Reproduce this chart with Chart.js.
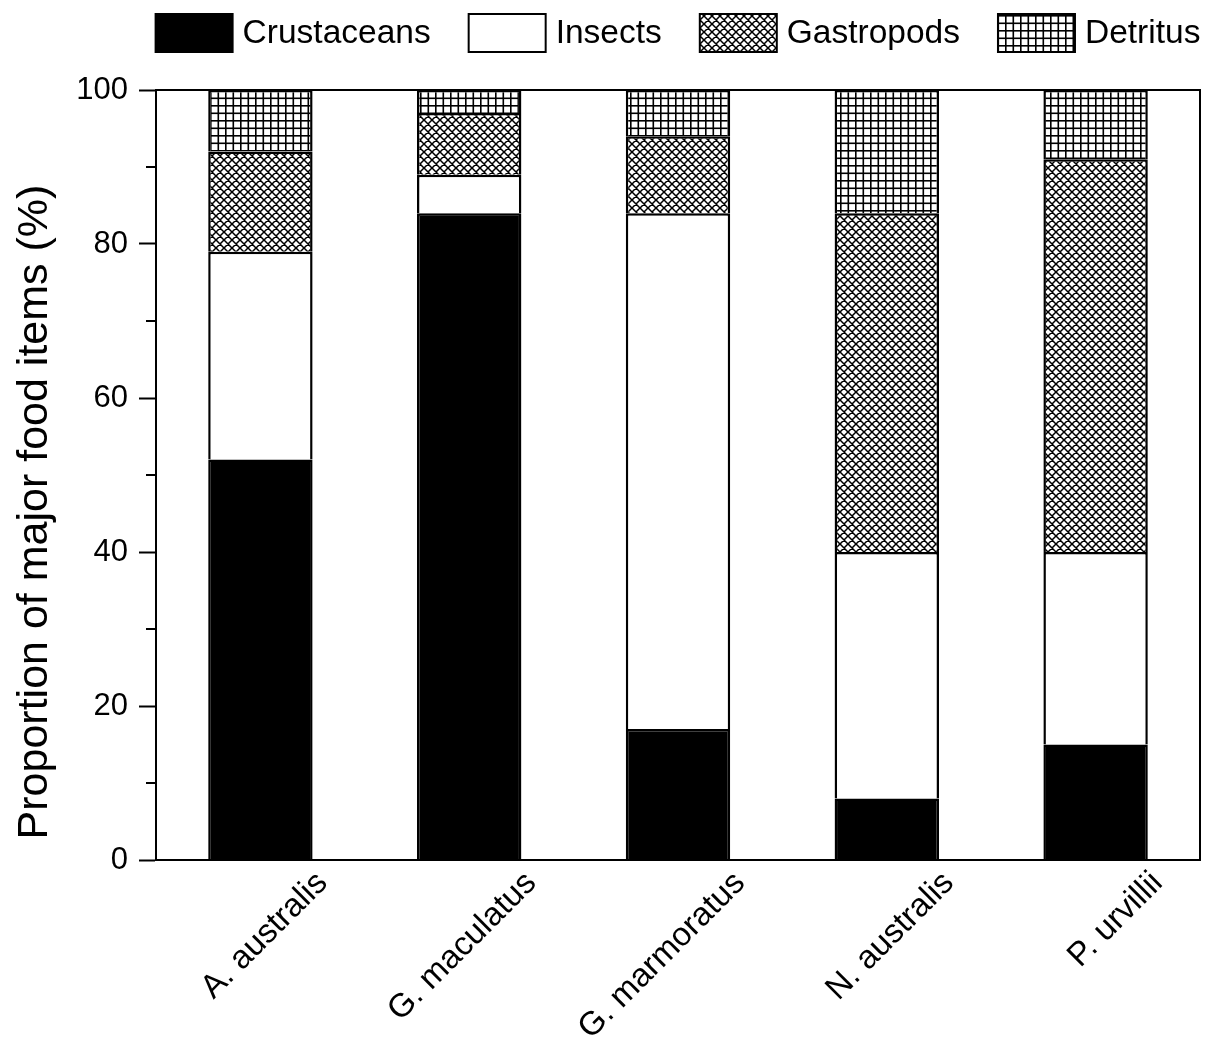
<!DOCTYPE html>
<html>
<head>
<meta charset="utf-8">
<title>Proportion of major food items</title>
<script src="https://cdn.jsdelivr.net/npm/chart.js@4/dist/chart.umd.min.js"></script>
<style>
  html, body { margin: 0; padding: 0; background: #fff; }
  canvas { display: block; }
</style>
</head>
<body>
<canvas id="diet" width="1212" height="1041"></canvas>
<script>
// Species and the share (%) of each food category in their diet
const species = ['A. australis', 'G. maculatus', 'G. marmoratus', 'N. australis', 'P. urvillii'];
const crustaceans = [52, 84, 17, 8, 15];
const insects = [27, 5, 67, 32, 25];
const gastropods = [13, 8, 10, 44, 51];
const detritus = [8, 3, 6, 16, 9];
const yMajorTicks = [0, 20, 40, 60, 80, 100];
const yMinorTicks = [10, 30, 50, 70, 90];
const yTitle = 'Proportion of major food items (%)';

const FONT = "'Liberation Sans', Arial, sans-serif";

// Diagonal cross-hatch fill
function crossHatch() {
  const s = 8;
  const c = document.createElement('canvas');
  c.width = s; c.height = s;
  const g = c.getContext('2d');
  g.fillStyle = '#fff';
  g.fillRect(0, 0, s, s);
  g.strokeStyle = '#000';
  g.lineWidth = 1.5;
  g.beginPath();
  for (let k = -1; k <= 1; k++) {
    g.moveTo(k * s, 0); g.lineTo(k * s + s, s);
    g.moveTo(k * s + s, 0); g.lineTo(k * s, s);
  }
  g.stroke();
  return g.createPattern(c, 'repeat');
}

// Square grid fill
function squareGrid() {
  const s = 15;
  const c = document.createElement('canvas');
  c.width = s; c.height = s;
  const g = c.getContext('2d');
  g.fillStyle = '#fff';
  g.fillRect(0, 0, s, s);
  g.fillStyle = '#000';
  [0, 7.5].forEach(p => {
    g.fillRect(p, 0, 1.6, s);
    g.fillRect(0, p, s, 1.6);
  });
  return g.createPattern(c, 'repeat');
}

const ctx = document.getElementById('diet').getContext('2d');

// Plot frame, minor y ticks and the vertical axis title
const framePlugin = {
  id: 'frame',
  afterDraw(chart) {
    const { ctx, chartArea: a, scales } = chart;
    ctx.save();
    ctx.strokeStyle = '#000';
    ctx.lineWidth = 2;
    ctx.strokeRect(a.left, a.top, a.right - a.left, a.bottom - a.top);
    ctx.beginPath();
    yMinorTicks.forEach(v => {
      const y = Math.round(scales.y.getPixelForValue(v));
      ctx.moveTo(a.left - 10, y);
      ctx.lineTo(a.left, y);
    });
    ctx.stroke();

    ctx.translate(47, scales.y.getPixelForValue(50) + 37);
    ctx.rotate(-Math.PI / 2);
    ctx.font = '43px ' + FONT;
    ctx.fillStyle = '#000';
    ctx.textAlign = 'center';
    ctx.textBaseline = 'alphabetic';
    ctx.fillText(yTitle, 0, 0);
    ctx.restore();
  }
};

// Legend row across the top
const legendPlugin = {
  id: 'topLegend',
  afterDraw(chart) {
    const { ctx, chartArea: a } = chart;
    const boxW = 77, boxH = 38, gap = 10, spacing = 38, top = 14;
    ctx.save();
    ctx.font = '33.5px ' + FONT;
    ctx.textBaseline = 'middle';
    ctx.textAlign = 'left';
    const items = chart.data.datasets.map(d => ({
      label: d.label, fill: d.backgroundColor, w: ctx.measureText(d.label).width
    }));
    const total = items.reduce((s, it) => s + boxW + gap + it.w, 0) + spacing * (items.length - 1);
    let x = (a.left + a.right) / 2 - total / 2;
    items.forEach(it => {
      ctx.fillStyle = it.fill;
      ctx.fillRect(x, top, boxW, boxH);
      ctx.strokeStyle = '#000';
      ctx.lineWidth = 2;
      ctx.strokeRect(x, top, boxW, boxH);
      ctx.fillStyle = '#000';
      ctx.fillText(it.label, x + boxW + gap, top + boxH / 2 + 1);
      x += boxW + gap + it.w + spacing;
    });
    ctx.restore();
  }
};

const barStyle = {
  borderColor: '#000',
  borderWidth: { top: 2.5, left: 2.5, right: 2.5, bottom: 0 },
  borderSkipped: false,
  barPercentage: 0.5,
  categoryPercentage: 1.0
};

new Chart(ctx, {
  type: 'bar',
  data: {
    labels: species,
    datasets: [
      { label: 'Crustaceans', data: crustaceans, backgroundColor: '#000', ...barStyle },
      { label: 'Insects', data: insects, backgroundColor: '#fff', ...barStyle },
      { label: 'Gastropods', data: gastropods, backgroundColor: crossHatch(), ...barStyle },
      { label: 'Detritus', data: detritus, backgroundColor: squareGrid(), ...barStyle }
    ]
  },
  options: {
    responsive: false,
    animation: false,
    layout: { padding: { top: 90, right: 12, left: 0, bottom: 0 } },
    plugins: {
      legend: { display: false },
      tooltip: { enabled: false }
    },
    scales: {
      x: {
        stacked: true,
        grid: { display: true, drawOnChartArea: false, drawTicks: false },
        border: { display: true, color: '#000', width: 2 },
        ticks: {
          autoSkip: false,
          minRotation: 45,
          maxRotation: 45,
          padding: 4,
          labelOffset: 62,
          color: '#000',
          font: { family: FONT, size: 33 }
        },
        afterFit(scale) { scale.height = 181; }
      },
      y: {
        stacked: true,
        min: 0,
        max: 100,
        afterBuildTicks(scale) { scale.ticks = yMajorTicks.map(v => ({ value: v })); },
        grid: { drawOnChartArea: false, tickLength: 17, tickWidth: 2, tickColor: '#000' },
        border: { display: true, color: '#000', width: 2 },
        ticks: {
          padding: 11,
          color: '#000',
          font: { family: FONT, size: 31 }
        },
        title: { display: false },
        afterFit(scale) { scale.width = 156; }
      }
    }
  },
  plugins: [framePlugin, legendPlugin]
});
</script>
</body>
</html>
